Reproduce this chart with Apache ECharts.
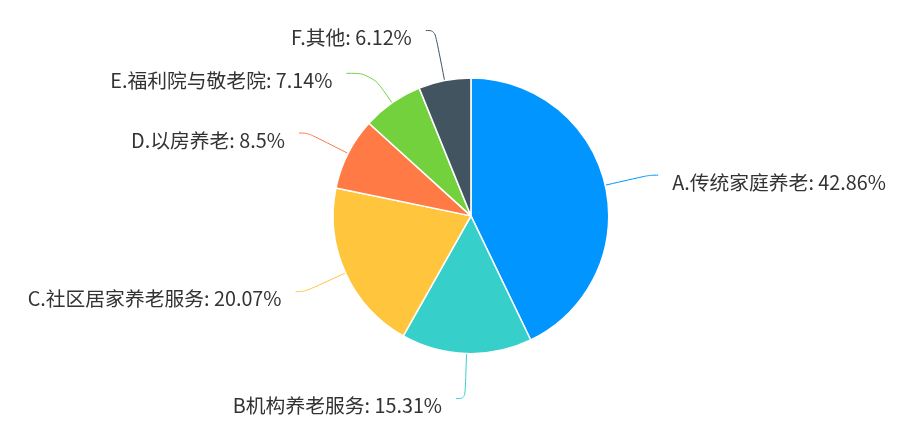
<!DOCTYPE html>
<html>
<head>
    <meta charset="utf-8">
    <script src="https://cdn.jsdelivr.net/npm/echarts@6/dist/echarts.min.js"></script>
    <style>
        html, body { margin: 0; padding: 0; background: #fff; }
    </style>
</head>
<body>
<div id="main" style="width: 918px;height:446px;"></div>

<script type="text/javascript">
    // 数据
    var names = ['A.传统家庭养老', 'B机构养老服务', 'C.社区居家养老服务', 'D.以房养老', 'E.福利院与敬老院', 'F.其他'];
    var counts = [126, 45, 59, 25, 21, 18];
    var colors = ['#0095ff', '#36cfc9', '#ffc53d', '#ff7a45', '#73d13d', '#435461'];

    var myChart = echarts.init(document.getElementById('main'));

    var seriesData = [];
    for (var i = 0; i < names.length; i++) {
        var item = { name: names[i], value: counts[i] };
        // E 的引导线短一点，水平段长一点；F 的长一点
        if (i === 4) {
            item.labelLine = { length: 36, length2: 25 };
        }
        if (i === 5) {
            item.labelLine = { length: 51, length2: 9 };
        }
        seriesData.push(item);
    }

    var option = {
        color: colors,
        animation: false,
        series: [
            {
                type: 'pie',
                radius: '61.8%',
                center: ['51.3%', '48.4%'],
                startAngle: 90,
                clockwise: true,
                data: seriesData,
                itemStyle: {
                    borderColor: '#fff',
                    borderWidth: 1.5
                },
                label: {
                    formatter: '{b}: {d}%',
                    color: '#333',
                    fontSize: 19.8,
                    fontFamily: '"Noto Sans CJK SC", "Noto Sans", sans-serif',
                    padding: [0, 9, 0, 9]
                },
                // 文字略低于引导线末端
                labelLayout: function () {
                    return { dy: 7 };
                },
                labelLine: {
                    length: 45,
                    length2: 9,
                    smooth: 0.4
                }
            }
        ]
    };

    myChart.setOption(option);
</script>
</body>
</html>
